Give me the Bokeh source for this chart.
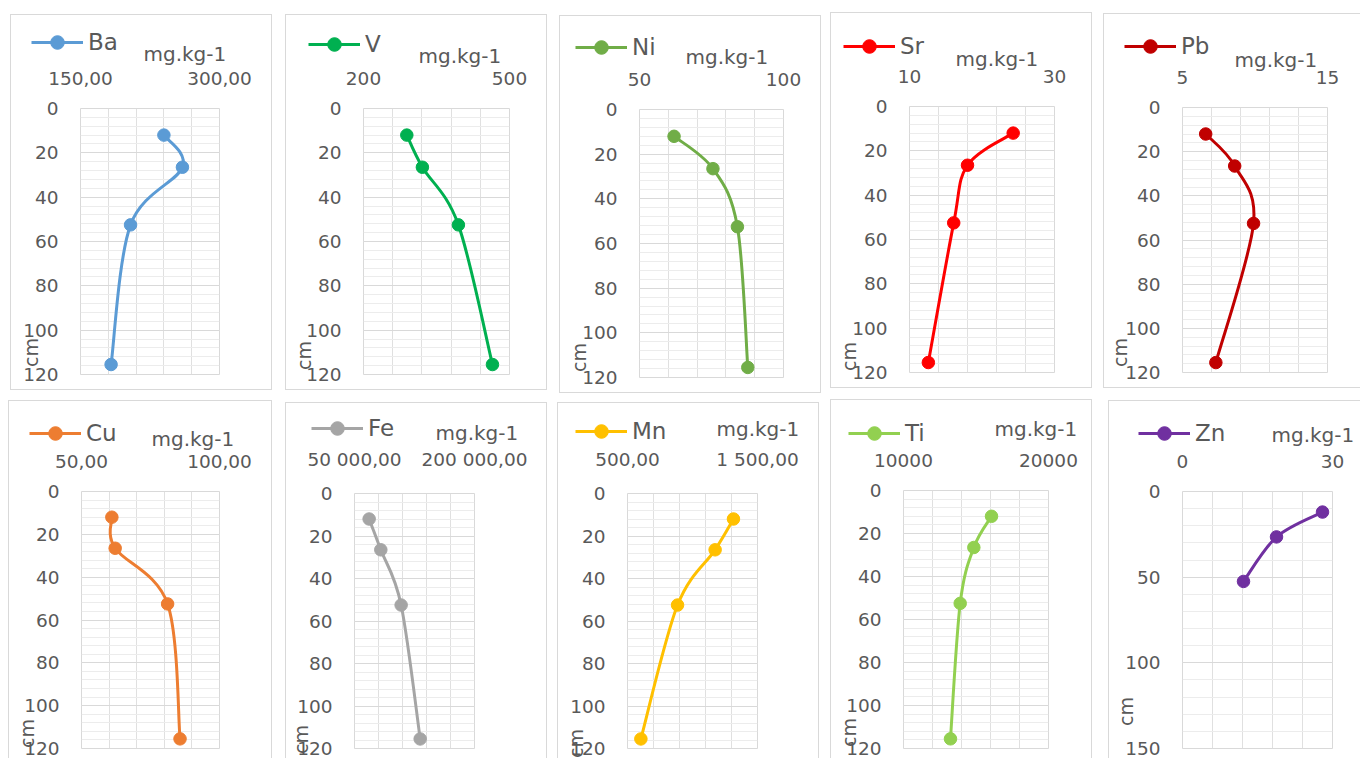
import math
from bokeh.plotting import figure
from bokeh.layouts import row, column
from bokeh.models import (Range1d, FixedTicker, Legend, LegendItem, ColumnDataSource, Title)
from bokeh.embed import file_html
from bokeh.resources import INLINE

# ---------------- data ----------------
DEPTH = [12, 26.5, 52.5, 115.5]
DEPTH_ZN = [12, 26.5, 52.5]

BA = [240, 260, 204, 183]
V = [289, 321, 395, 465]
NI = [62, 75.5, 84, 87.6]
SR = [24.3, 18.0, 16.1, 12.6]
PB = [6.6, 8.6, 9.9, 7.3]
CU = [61, 62.2, 81.2, 85.7]
FE = [68300, 82900, 108300, 132100]
MN = [1315, 1174, 885, 603]
TI = [16070, 14850, 13910, 13240]
ZN = [28.0, 18.8, 12.2]

NAMES = ["Ba", "V", "Ni", "Sr", "Pb", "Cu", "Fe", "Mn", "Ti", "Zn"]
VALUES = [BA, V, NI, SR, PB, CU, FE, MN, TI, ZN]
DEPTHS = [DEPTH] * 9 + [DEPTH_ZN]

X_TICKS = [[150, 300], [200, 500], [50, 100], [10, 30], [5, 15],
           [50, 100], [50000, 200000], [500, 1500], [10000, 20000], [0, 30]]
X_TICK_LABELS = [["150,00", "300,00"], ["200", "500"], ["50", "100"], ["10", "30"], ["5", "15"],
                 ["50,00", "100,00"], ["50 000,00", "200 000,00"], ["500,00", "1 500,00"],
                 ["10000", "20000"], ["0", "30"]]
DEPTH_TICKS = [0, 20, 40, 60, 80, 100, 120]
DEPTH_TICKS_ZN = [0, 50, 100, 150]

UNIT = "mg.kg-1"
DEPTH_LABEL = "cm"

# ---------------- styles / layout ----------------
COLORS = ["#5b9bd5", "#00b050", "#70ad47", "#ff0000", "#c00000",
          "#ed7d31", "#a5a5a5", "#ffc000", "#92d050", "#7030a0"]
TXT = "#595959"
FONT = "DejaVu Sans"
TICK_FS = 18.5

# panel w/h, margins, frame L/R/T/B (panel px), legend x / centre y, unit x / centre y,
# "cm" centre x / centre y
LAY = [
    dict(w=262, h=376, ml=10, mt=14, L=69, R=208, T=93, B=361, lx=20, ly=27, ux=132, uy=39, cx=22, cy=339),
    dict(w=262, h=376, ml=13, mt=14, L=77, R=223, T=93, B=362, lx=22, ly=29, ux=132, uy=41, cx=20, cy=343),
    dict(w=262, h=378, ml=12, mt=15, L=79, R=223, T=92, B=362, lx=15, ly=30, ux=125, uy=40, cx=21, cy=342),
    dict(w=262, h=376, ml=9, mt=12, L=78, R=223, T=92, B=359, lx=12, ly=32, ux=124, uy=45, cx=20, cy=343),
    dict(w=257, h=375, ml=11, mt=13, L=78, R=223, T=91, B=359, lx=20, ly=30, ux=130, uy=44, cx=18, cy=339),
    dict(w=264, h=358, ml=8, mt=7, L=72, R=210, T=89, B=347, lx=20, ly=30, ux=142, uy=37, cx=20, cy=332),
    dict(w=262, h=356, ml=13, mt=9, L=68, R=188, T=88, B=345, lx=25, ly=26, ux=149, uy=36, cx=17, cy=336),
    dict(w=262, h=356, ml=10, mt=9, L=69, R=199, T=90, B=346, lx=17, ly=31, ux=158, uy=34, cx=20, cy=341),
    dict(w=262, h=359, ml=11, mt=6, L=72, R=217, T=90, B=348, lx=17, ly=32, ux=163, uy=29, cx=20, cy=332),
    dict(w=252, h=358, ml=16, mt=7, L=73, R=223, T=89, B=347, lx=29, ly=30, ux=162, uy=33, cx=19, cy=310),
]
YSTAND = 22                               # y tick label standoff
YLAB_W = YSTAND + 3 * 0.636 * TICK_FS     # standoff + widest label
XSTAND = 24                               # x tick label standoff
XAX_H = XSTAND + 22                       # height of the top axis panel (estimate)
LEG_H = 34                                # legend glyph height
LEG_DY = 3                                # empirical correction (px down)
UNIT_DY = -6                              # empirical correction (px down)


def bezier_source(xs, ys):
    """Catmull-Rom style smoothing (like Excel smoothed lines) as cubic Bezier segments."""
    n = len(xs)
    d = dict(x0=[], y0=[], x1=[], y1=[], cx0=[], cy0=[], cx1=[], cy1=[])
    for i in range(n - 1):
        xm, ym = (xs[i - 1], ys[i - 1]) if i > 0 else (xs[i], ys[i])
        xp, yp = (xs[i + 2], ys[i + 2]) if i + 2 < n else (xs[i + 1], ys[i + 1])
        d["x0"].append(xs[i]); d["y0"].append(ys[i])
        d["x1"].append(xs[i + 1]); d["y1"].append(ys[i + 1])
        d["cx0"].append(xs[i] + (xs[i + 1] - xm) / 6.0)
        d["cy0"].append(ys[i] + (ys[i + 1] - ym) / 6.0)
        d["cx1"].append(xs[i + 1] - (xp - xs[i]) / 6.0)
        d["cy1"].append(ys[i + 1] - (yp - ys[i]) / 6.0)
    return ColumnDataSource(d)


def make_panel(k):
    name, xs, ys, col, lay = NAMES[k], VALUES[k], DEPTHS[k], COLORS[k], LAY[k]
    x0, x1 = X_TICKS[k]
    dticks = DEPTH_TICKS_ZN if k == 9 else DEPTH_TICKS
    dmax = dticks[-1]
    w, h = lay["w"], lay["h"]
    L, R, T, B = lay["L"], lay["R"], lay["T"], lay["B"]

    p = figure(width=w, height=h, x_range=Range1d(x0, x1), y_range=Range1d(dmax, 0),
               x_axis_location="above", output_backend="svg", toolbar_location=None,
               min_border_left=L, min_border_right=w - R,
               min_border_top=T, min_border_bottom=h - B)
    p.outline_line_color = "#d9d9d9"
    p.background_fill_color = "white"
    p.border_fill_color = "white"

    step_x = (x1 - x0) / 5.0
    p.xaxis.ticker = FixedTicker(ticks=X_TICKS[k], minor_ticks=[x0 + step_x * i for i in range(1, 5)])
    p.xaxis.major_label_overrides = {X_TICKS[k][0]: X_TICK_LABELS[k][0], X_TICKS[k][1]: X_TICK_LABELS[k][1]}
    step_y = (dticks[1] - dticks[0]) / 5.0
    yminor = []
    v = 0.0
    while v <= dmax + 1e-9:
        yminor.append(v)
        v += step_y
    p.yaxis.ticker = FixedTicker(ticks=dticks, minor_ticks=yminor)

    for ax in (p.xaxis[0], p.yaxis[0]):
        ax.axis_line_color = None
        ax.major_tick_line_color = None
        ax.minor_tick_line_color = None
        ax.major_tick_out = 0
        ax.major_tick_in = 0
        ax.minor_tick_out = 0
        ax.major_label_text_font = FONT
        ax.major_label_text_font_size = f"{TICK_FS}px"
        ax.major_label_text_color = TXT
    p.xaxis.major_label_standoff = XSTAND
    p.yaxis.major_label_standoff = YSTAND

    p.xgrid.grid_line_color = "#d9d9d9"
    p.xgrid.minor_grid_line_color = "#e0e0e0"
    p.ygrid.grid_line_color = "#d9d9d9"
    p.ygrid.minor_grid_line_color = "#ececec"

    src = bezier_source(xs, ys)
    p.bezier(x0="x0", y0="y0", x1="x1", y1="y1", cx0="cx0", cy0="cy0",
             cx1="cx1", cy1="cy1", source=src, line_color=col, line_width=3)
    r_key = p.line(xs, ys, line_color=col, line_width=3, visible=False)  # legend key only
    r_pts = p.scatter(xs, ys, size=12.5, fill_color=col, line_color=col)

    # legend in the panel above the axis labels
    leg = Legend(items=[LegendItem(label=name, renderers=[r_key, r_pts])],
                 location=(lay["lx"] - L, (T - XAX_H) - (lay["ly"] + LEG_DY + LEG_H / 2)),
                 glyph_width=52, glyph_height=LEG_H, label_standoff=5, padding=0, margin=0,
                 border_line_color=None, background_fill_alpha=0,
                 label_text_font=FONT, label_text_font_size="23px", label_text_color=TXT,
                 label_text_baseline="middle")
    p.add_layout(leg, "above")

    # unit text as a title in the outermost top panel, pulled down beside the legend
    top_of_leg_panel = T - XAX_H - LEG_H
    s_u = 2 * (top_of_leg_panel - (lay["uy"] + UNIT_DY) - 11.6)
    p.add_layout(Title(text=UNIT, align="left", vertical_align="bottom", offset=lay["ux"] - L,
                       standoff=s_u, text_font=FONT, text_font_size="20px",
                       text_font_style="normal", text_color=TXT), "above")

    # "cm" as a left-side title, pulled in over the tick labels
    s = 2 * (L - YLAB_W - 11 - lay["cx"])
    off = (B - lay["cy"]) - 14.5
    p.add_layout(Title(text=DEPTH_LABEL, align="left", vertical_align="bottom", offset=off,
                       standoff=s, text_font=FONT, text_font_size="19px",
                       text_font_style="normal", text_color=TXT), "left")

    border = "1px solid #d9d9d9"
    p.styles = {"border-top": border, "border-left": border,
                "border-right": border if k not in (4, 9) else "none",
                "border-bottom": border if k < 5 else "none"}
    p.margin = (lay["mt"], 0, 0, lay["ml"])
    return p


panels = [make_panel(k) for k in range(10)]
layout = column(row(*panels[:5]), row(*panels[5:]))

open("out.html", "w").write(file_html(layout, INLINE))
